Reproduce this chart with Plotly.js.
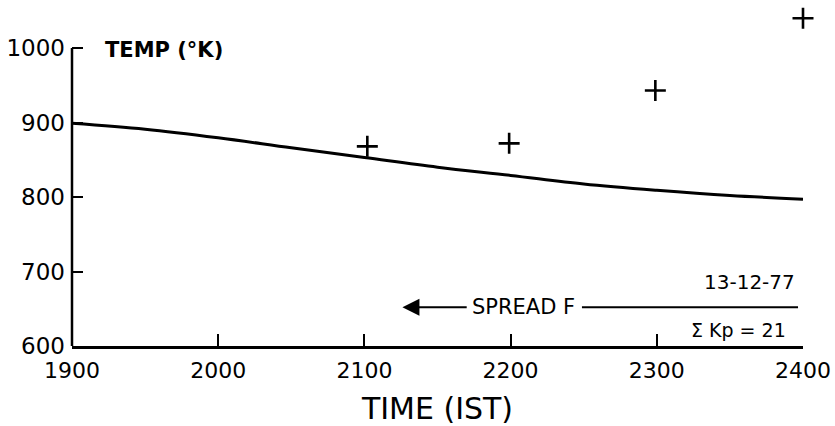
<!DOCTYPE html>
<html><head><meta charset="utf-8">
<script src="https://cdn.plot.ly/plotly-3.0.1.min.js"></script>
<style>html,body{margin:0;padding:0;background:#fff}</style>
</head><body><div id="chart" style="width:835px;height:426px"></div>
<script>
// Model curve (solid line)
const curveTime = [1900, 1950, 2000, 2050, 2100, 2150, 2200, 2250, 2300, 2350, 2400];
const curveTemp = [899, 891, 879.5, 866, 853, 840, 829, 817.5, 809, 802, 797];
// Observed temperatures (+ markers)
const obsTime = [2102, 2199, 2299, 2400];
const obsTemp = [868, 872, 943, 1040];
// Ticks
const xTickVals = [1900, 2000, 2100, 2200, 2300, 2400];
const xTickText = ['1900', '2000', '2100', '2200', '2300', '2400'];
const yTickVals = [600, 700, 800, 900, 1000];
const yTickText = ['600', '700', '800', '900', '1000'];

const FONT = 'DejaVu Sans, Verdana, sans-serif';

const traces = [
  {x: curveTime, y: curveTemp, mode: 'lines', line: {color: '#000', width: 3, shape: 'spline'}, hoverinfo: 'skip'},
  {x: obsTime, y: obsTemp, mode: 'markers', cliponaxis: false,
   marker: {symbol: 'cross-thin', size: 15, line: {color: '#000', width: 2.6}}}
];

const layout = {
  width: 835, height: 426,
  margin: {l: 72, r: 32, t: 10, b: 80},
  paper_bgcolor: '#fff', plot_bgcolor: '#fff',
  showlegend: false,
  font: {family: FONT, color: '#000'},
  xaxis: {
    range: [1900, 2400], tickmode: 'array', tickvals: xTickVals, ticktext: xTickText,
    ticks: 'inside', ticklen: 12, tickwidth: 2, tickcolor: '#000',
    showline: true, linecolor: '#000', linewidth: 2.5,
    showgrid: false, zeroline: false, ticklabelstandoff: 3,
    tickfont: {size: 22, family: FONT},
    title: {text: 'TIME (IST)', font: {size: 30, family: FONT}, standoff: 16}
  },
  yaxis: {
    range: [600, 1051], tickmode: 'array', tickvals: yTickVals, ticktext: yTickText,
    ticks: 'inside', ticklen: 11, tickwidth: 2, tickcolor: '#000',
    showline: false, showgrid: false, zeroline: false, ticklabelstandoff: 6,
    tickfont: {size: 23, family: FONT}
  },
  shapes: [
    {type: 'line', xref: 'paper', yref: 'y', x0: 0, x1: 0, y0: 600, y1: 1000, line: {color: '#000', width: 2.5}},
    {type: 'line', xref: 'x', yref: 'y', x0: 2248.8, x1: 2396.6, y0: 652, y1: 652, line: {color: '#000', width: 2}}
  ],
  annotations: [
    {xref: 'x', yref: 'y', x: 1921, y: 997, xanchor: 'left', yanchor: 'middle', showarrow: false,
     text: 'TEMP (°K)', font: {size: 21, family: FONT, weight: 'bold'}},
    {xref: 'x', yref: 'y', x: 2172, y: 652, xanchor: 'left', yanchor: 'middle', showarrow: false,
     text: 'SPREAD F', font: {size: 21, family: FONT}},
    {xref: 'x', yref: 'y', x: 2126, y: 652, axref: 'x', ayref: 'y', ax: 2171, ay: 652, text: '',
     showarrow: true, arrowhead: 2, arrowsize: 1.7, arrowwidth: 2, arrowcolor: '#000', standoff: 0},
    {xref: 'x', yref: 'y', x: 2396, y: 686, xanchor: 'right', yanchor: 'middle', showarrow: false,
     text: '13-12-77', font: {size: 20, family: FONT}},
    {xref: 'x', yref: 'y', x: 2390, y: 621, xanchor: 'right', yanchor: 'middle', showarrow: false,
     text: 'Σ Kp = 21', font: {size: 19, family: FONT}}
  ]
};

Plotly.newPlot('chart', traces, layout, {displayModeBar: false, staticPlot: true});
</script>
</body></html>
